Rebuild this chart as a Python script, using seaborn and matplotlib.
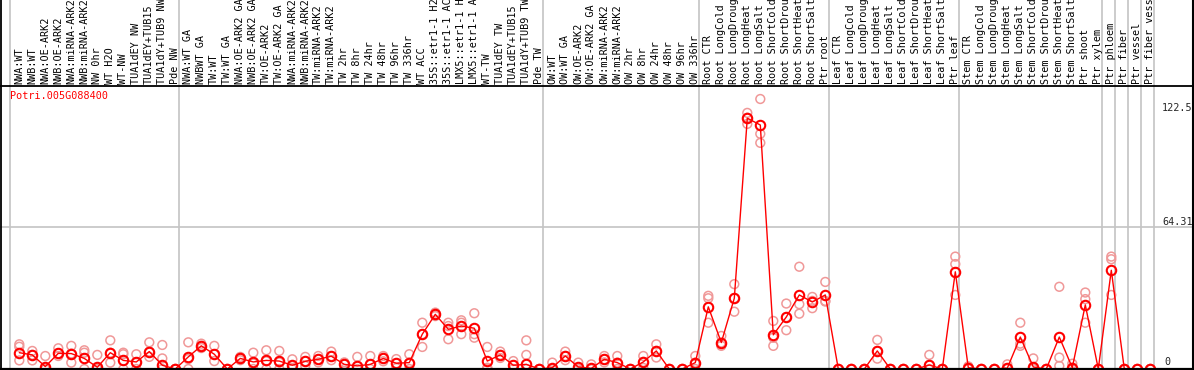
import matplotlib
matplotlib.use("Agg")
import matplotlib.pyplot as plt
import seaborn as sns
import pandas as pd

gene = "Potri.005G088400"

# sample names as printed (the header cuts the long ones)
samples = [
    "NWA:WT", "NWB:WT", "NWA:OE-ARK2", "NWB:OE-ARK2", "NWA:miRNA-ARK2", "NWB:miRNA-ARK2",
    "NW 0hr", "WT H2O", "WT-NW", "TUA1dEY NW", "TUA1dEY+TUB15", "TUA1dY+TUB9 NW", "Pde NW",
    "NWA:WT GA", "NWBWT GA", "TW:WT", "TW:WT GA", "NWA:OE-ARK2 GA", "NWB:OE-ARK2 GA",
    "TW:OE-ARK2", "TW:OE-ARK2 GA", "NWA:miRNA-ARK2", "NWB:miRNA-ARK2", "TW:miRNA-ARK2",
    "TW:miRNA-ARK2", "TW 2hr", "TW 8hr", "TW 24hr", "TW 48hr", "TW 96hr", "TW 336hr",
    "WT ACC", "35S::etr1-1 H2", "35S::etr1-1 AC", "LMX5::etr1-1 H", "LMX5::etr1-1 A",
    "WT-TW", "TUA1dEY TW", "TUA1dEY+TUB15", "TUA1dY+TUB9 TW", "Pde TW",
    "OW:WT", "OW:WT GA", "OW:OE-ARK2", "OW:OE-ARK2 GA", "OW:miRNA-ARK2", "OW:miRNA-ARK2",
    "OW 2hr", "OW 8hr", "OW 24hr", "OW 48hr", "OW 96hr", "OW 336hr",
    "Root CTR", "Root LongCold", "Root LongDroug", "Root LongHeat", "Root LongSalt",
    "Root ShortCold", "Root ShortDrou", "Root ShortHeat", "Root ShortSalt", "Ptr root",
    "Leaf CTR", "Leaf LongCold", "Leaf LongDroug", "Leaf LongHeat", "Leaf LongSalt",
    "Leaf ShortCold", "Leaf ShortDrou", "Leaf ShortHeat", "Leaf ShortSalt", "Ptr leaf",
    "Stem CTR", "Stem LongCold", "Stem LongDroug", "Stem LongHeat", "Stem LongSalt",
    "Stem ShortCold", "Stem ShortDrou", "Stem ShortHeat", "Stem ShortSalt", "Ptr shoot",
    "Ptr xylem", "Ptr phloem", "Ptr fiber", "Ptr vessel", "Ptr fiber vess",
]

means = [
    7.4, 6.4, 1.1, 7.1, 7.0, 4.8, 0.8, 7.4, 3.9, 3.2, 7.9, 1.7, 0.0,
    5.5, 10.5, 6.7, 0.0, 4.8, 3.2, 3.9, 3.6, 1.7, 3.5, 4.4, 5.8, 2.1, 1.4, 2.1, 4.8, 2.6, 2.9,
    15.8, 24.8, 18.0, 19.5, 18.5, 3.6, 6.4, 1.7, 2.1, 0.0,
    0.6, 5.9, 0.9, 0.3, 4.4, 2.9, 0.0, 3.2, 8.2, 0.0, 0.0, 2.9,
    28.2, 12.0, 32.1, 113.8, 110.7, 15.5, 23.6, 33.6, 30.4, 33.6,
    0.0, 0.0, 0.0, 8.2, 0.0, 0.0, 0.0, 1.8, 0.0, 44.1,
    0.6, 0.0, 0.0, 0.4, 14.5, 0.9, 0.0, 14.5, 0.6, 29.1, 0.0,
    44.8, 0.0, 0.0, 0.0,
]

replicates = [
    [11.2, 10.1, 3.9], [8.2, 6.4, 3.9], [5.9, 0, 0], [9.4, 7.1, 5.9], [10.5, 7.0, 2.9],
    [8.5, 7.4, 0], [6.4, 0, 0], [13.0, 7.4, 2.9], [7.4, 6.7, 0], [6.7, 3.0, 0],
    [12.1, 7.9, 5.5], [10.9, 4.8, 0], [0, 0, 0],
    [12.1, 4.5, 0], [11.5, 10.5, 9.5], [10.5, 6.7, 3.6], [0, 0, 0], [5.5, 4.8, 4.0],
    [7.4, 2.5, 0], [8.5, 3.5, 0], [8.2, 3.0, 0], [4.4, 1.4, 0], [5.5, 3.5, 1.4],
    [5.9, 4.4, 3.0], [7.9, 5.8, 4.0], [3.0, 2.1, 0], [5.5, 1.4, 0], [5.9, 2.1, 0],
    [5.9, 4.8, 3.5], [4.5, 2.6, 0.5], [6.7, 2.9, 0], [21.0, 15.8, 10.0],
    [25.6, 24.8, 24.0], [21.0, 19.5, 13.5], [22.1, 21.0, 15.8], [25.3, 15.8, 14.2],
    [10.0, 0.6, 0], [7.9, 6.4, 5.0], [3.6, 1.7, 0], [13.0, 6.4, 0], [0, 0, 0],
    [2.9, 0, 0], [7.9, 5.9, 4.0], [2.9, 0, 0], [2.1, 0, 0], [5.9, 4.4, 3.0],
    [5.9, 2.9, 0], [0, 0, 0], [5.9, 3.2, 0.5], [11.2, 8.2, 5.2], [0, 0, 0],
    [0, 0, 0], [5.9, 2.9, 0],
    [33.2, 32.1, 21.0], [15.0, 12.0, 10.5], [38.5, 32.1, 26.0], [116.2, 114.0, 111.2],
    [122.5, 106.7, 102.6], [21.8, 14.2, 10.5], [29.7, 23.5, 17.6], [46.4, 29.4, 25.1],
    [32.7, 30.9, 27.6], [39.5, 30.9, 30.6],
    [0, 0, 0], [0, 0, 0], [0, 0, 0], [13.2, 8.2, 4.7], [0, 0, 0], [0, 0, 0], [0, 0, 0],
    [6.4, 1.8, 0], [0, 0, 0], [51.0, 47.6, 33.6],
    [1.2, 0.6, 0], [0, 0, 0], [0, 0, 0], [2.1, 0.4, 0], [21.0, 11.5, 10.5],
    [4.8, 0.6, 0], [0, 0, 0], [37.3, 5.2, 1.4], [2.4, 0.6, 0], [34.7, 31.7, 21.0], [0, 0, 0],
    [51.0, 49.8, 33.6], [0, 0, 0], [0, 0, 0], [0, 0, 0],
]

# first column of each sample group (last entry closes the plot)
group_starts = [0, 13, 41, 53, 63, 73, 84, 85, 86, 87, 88]
tick_labels = ["0", "64.31", "122.5"]

RED = "#ff0000"
PINK = "#f09898"
GRID = "#c4c4c4"

sns.set_theme(style="white")
plt.rcParams["font.family"] = ["DejaVu Sans Mono", "DejaVu Sans"]

# pixel layout of the original image
W, H = 1194, 370
X0, DX = 19.3, 13.0          # px of first point, px per column
Y_BASE, Y_TOP = 369.0, 85.5  # px of value 0 and of the axis top
ymax = max(max(r) for r in replicates) * 1.05
ppu = (Y_BASE - Y_TOP) / ymax


def vy(px):
    return (Y_BASE - px) / ppu


fig = plt.figure(figsize=(W / 100, H / 100), dpi=100)
ax = fig.add_axes([0, 0, 1, 1])

# group separators and midline
for g in group_starts:
    ax.axvline(g - 0.68, color=GRID, lw=1.2, zorder=1)
ax.axhline(ymax / 2, color=GRID, lw=1.2, zorder=1)

rep_df = pd.DataFrame(
    [(i, v) for i, reps in enumerate(replicates) for v in reps], columns=["x", "value"]
)
sns.scatterplot(data=rep_df, x="x", y="value", marker="o", s=40,
                facecolor="none", edgecolor=PINK, linewidth=1.1, ax=ax, zorder=3)

mean_df = pd.DataFrame({"x": range(len(means)), "value": means})
sns.lineplot(data=mean_df, x="x", y="value", color=RED, lw=1.0, marker="o",
             markersize=6.8, markerfacecolor="none", markeredgecolor=RED,
             markeredgewidth=1.5, ax=ax, zorder=4)

ax.set_xlim(-X0 / DX, (W - X0) / DX)
ax.set_ylim(vy(H), vy(0))
ax.axis("off")

# frame lines
ax.axhline(vy(Y_TOP), color="black", lw=1.3, zorder=5)
ax.axhline(0, color="black", lw=1.6, zorder=5)
ax.axvline(-X0 / DX + 0.08, color="black", lw=1.3, zorder=5)
ax.axvline((W - X0) / DX - 0.08, color="black", lw=1.5, zorder=5)

# sample labels in the header
for i, name in enumerate(samples):
    ax.text(i, vy(84), name, rotation=90, ha="center", va="bottom",
            fontsize=7.3, color="black")

ax.text(-0.68, vy(96), gene, ha="left", va="center", fontsize=7.3, color=RED)

# value labels on the right
x_lab = (1162 - X0) / DX
ax.text(x_lab, vy(108), tick_labels[2], ha="left", va="center", fontsize=7.3)
ax.text(x_lab, ymax / 2, tick_labels[1], ha="left", va="bottom", fontsize=7.3)
ax.text(x_lab + 0.15, 0.8, tick_labels[0], ha="left", va="bottom", fontsize=7.3)

fig.savefig("out.png", dpi=100)
